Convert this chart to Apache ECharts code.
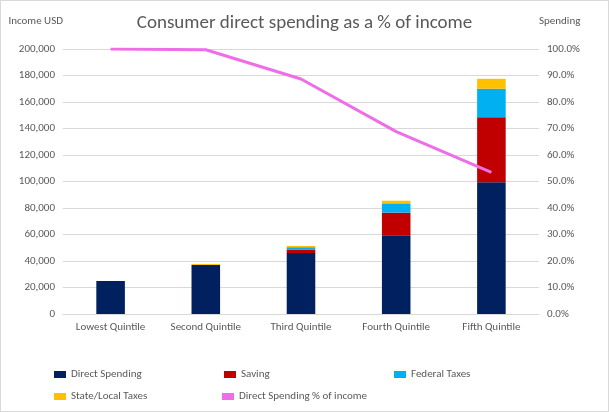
<!DOCTYPE html><html><head><meta charset="utf-8"><script src="https://cdn.jsdelivr.net/npm/echarts@6/dist/echarts.min.js"></script></head><body style="margin:0"><div id="c" style="width:607px;height:410px;border:1px solid #d9d9d9"></div><script>
const categories=['Lowest Quintile','Second Quintile','Third Quintile','Fourth Quintile','Fifth Quintile'];
const directSpending=[25000,37000,46000,59500,99500];
const saving=[0,0,2700,17000,49000];
const federalTaxes=[0,0,1700,7000,21500];
const stateTaxes=[0,700,1000,2000,7500];
const spendingPct=[100,99.7,88.7,68.8,53.4];
const F='Calibri, Carlito, "Liberation Sans", sans-serif';
const ch=echarts.init(document.getElementById('c'));
const lg=(name,left,top)=>({data:[name],left,top,icon:'rect',itemWidth:12,itemHeight:7,textStyle:{fontSize:11,color:'#595959',fontFamily:F},selectedMode:false});
ch.setOption({
 backgroundColor:'#fff',
 title:{text:'Consumer direct spending as a % of income',left:'center',top:8,textStyle:{fontSize:19,fontWeight:'normal',color:'#595959',fontFamily:F}},
 legend:[lg('Direct Spending',48,363),lg('Saving',218,363),lg('Federal Taxes',388,363),lg('State/Local Taxes',48,385),lg('Direct Spending % of income',216,385)],
 grid:{left:62,right:69,top:48,bottom:97},
 xAxis:{type:'category',data:categories,axisTick:{show:false},axisLine:{lineStyle:{color:'#d9d9d9'}},axisLabel:{color:'#595959',fontSize:11,fontFamily:F}},
 yAxis:[{type:'value',min:0,max:200000,interval:20000,name:'Income USD',nameLocation:'end',nameGap:0,nameTextStyle:{align:'right',verticalAlign:'bottom',padding:[0,0,22,0],color:'#595959',fontSize:11,fontFamily:F},axisLabel:{color:'#595959',fontSize:11,fontFamily:F,formatter:v=>v.toLocaleString('en-US')},splitLine:{lineStyle:{color:'#d9d9d9'}}},
  {type:'value',min:0,max:100,interval:10,name:'Spending',nameGap:0,nameTextStyle:{align:'left',verticalAlign:'bottom',padding:[0,0,22,0],color:'#595959',fontSize:11,fontFamily:F},axisLabel:{color:'#595959',fontSize:11,fontFamily:F,formatter:v=>v.toFixed(1)+'%'},splitLine:{show:false}}],
 series:[
  {name:'Direct Spending',type:'bar',stack:'a',data:directSpending,barWidth:'30%',itemStyle:{color:'#002060'}},
  {name:'Saving',type:'bar',stack:'a',data:saving,itemStyle:{color:'#c00000'}},
  {name:'Federal Taxes',type:'bar',stack:'a',data:federalTaxes,itemStyle:{color:'#00b0f0'}},
  {name:'State/Local Taxes',type:'bar',stack:'a',data:stateTaxes,itemStyle:{color:'#ffc000'}},
  {name:'Direct Spending % of income',type:'line',yAxisIndex:1,data:spendingPct,symbol:'none',lineStyle:{color:'#ee6ee8',width:3},itemStyle:{color:'#ee6ee8'}}
 ]});
</script></body></html>
